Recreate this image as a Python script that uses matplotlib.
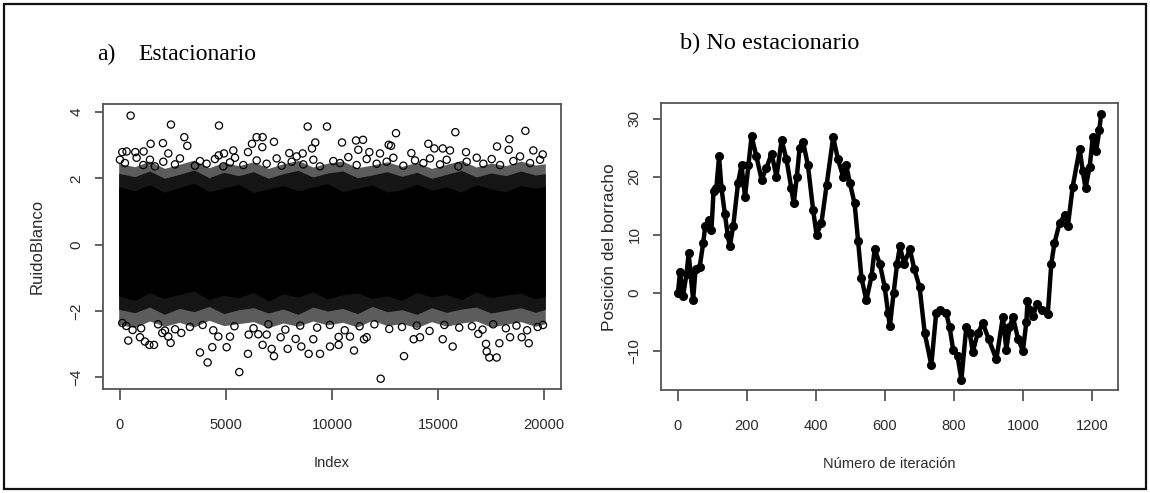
import matplotlib
matplotlib.use('Agg')
import matplotlib.pyplot as plt
from matplotlib.patches import Rectangle

plt.rcParams['font.family'] = ['Liberation Sans', 'DejaVu Sans']

# ---- a) white noise (values read off the picture) ----
n_noise = 20000
# edges of the dense band of points along the index axis
band_idx = [-60, 700, 1400, 2100, 2800, 3500, 4200, 4900, 5600, 6300, 7000, 7700, 8400, 9100,
            9800, 10500, 11200, 11900, 12600, 13300, 14000, 14700, 15400, 16100, 16800, 17500,
            18200, 18900, 19600, 20060]
core_hi = [1.75, 1.62, 1.80, 1.58, 1.72, 1.85, 1.60, 1.70, 1.82, 1.57, 1.68, 1.78, 1.62, 1.74,
           1.84, 1.60, 1.70, 1.80, 1.58, 1.66, 1.82, 1.64, 1.74, 1.58, 1.80, 1.68, 1.60, 1.78,
           1.70, 1.76]
core_lo = [-1.55, -1.68, -1.45, -1.62, -1.50, -1.40, -1.66, -1.52, -1.60, -1.44, -1.70, -1.48,
           -1.58, -1.42, -1.64, -1.50, -1.46, -1.62, -1.54, -1.68, -1.44, -1.58, -1.50, -1.66,
           -1.42, -1.60, -1.52, -1.46, -1.64, -1.55]
mid_hi = [2.15, 2.05, 2.22, 2.00, 2.12, 2.25, 2.02, 2.18, 2.08, 2.20, 2.00, 2.14, 2.24, 2.04,
          2.16, 2.22, 2.02, 2.10, 2.20, 2.06, 2.18, 2.00, 2.12, 2.24, 2.04, 2.16, 2.08, 2.22,
          2.10, 2.14]
mid_lo = [-1.95, -2.05, -1.88, -2.10, -1.92, -2.02, -1.86, -2.08, -1.96, -1.90, -2.06, -1.94,
          -2.10, -1.88, -2.00, -1.92, -2.08, -1.86, -2.02, -1.96, -2.10, -1.90, -2.04, -1.94,
          -1.88, -2.06, -1.98, -1.90, -2.04, -1.95]
fringe_hi = [2.45, 2.35, 2.52, 2.30, 2.42, 2.55, 2.32, 2.48, 2.38, 2.50, 2.30, 2.44, 2.54, 2.34,
             2.46, 2.52, 2.32, 2.40, 2.50, 2.36, 2.48, 2.30, 2.42, 2.54, 2.34, 2.46, 2.38, 2.52,
             2.40, 2.44]
fringe_lo = [-2.40, -2.50, -2.30, -2.46, -2.34, -2.48, -2.28, -2.44, -2.38, -2.32, -2.50, -2.36,
             -2.46, -2.30, -2.42, -2.34, -2.48, -2.28, -2.44, -2.38, -2.50, -2.32, -2.46, -2.36,
             -2.30, -2.48, -2.40, -2.32, -2.46, -2.38]

# single points above the band
top_idx = [504, 2406, 4670, 8853, 9764, 13019, 15818, 19120, 3035, 3176, 2028, 2280, 1447, 6446,
           6729, 6714, 6226, 7264, 9212, 9056, 10472, 11132, 11462, 11242, 11761, 12673, 12784,
           13742, 14544, 14827, 15222, 15566, 17783, 18364, 18333, 19496, 19939, 110, 314, 723,
           1116, 4654, 4906, 5346, 6038, 7987, 8617, 12264, 16321,
           0, 236, 786, 1101, 1415, 1651, 2044, 2594, 2830, 3538, 3774, 4088, 4481, 4874, 5189,
           5425, 5818, 6447, 6919, 7390, 7626, 8098, 8334, 8648, 9120, 9434, 10063, 10378,
           10771, 11164, 11636, 12107, 12579, 12893, 13365, 13915, 14308, 14623, 15095, 15409,
           15959, 16352, 16824, 17138, 17531, 17924, 18553, 18868, 19340, 19811]
top_val = [3.89, 3.62, 3.59, 3.56, 3.56, 3.36, 3.39, 3.43, 3.24, 2.98, 3.06, 2.75, 3.04, 3.24,
           3.24, 2.94, 3.04, 3.10, 3.08, 2.90, 3.08, 3.14, 3.16, 2.86, 2.79, 3.01, 2.98,
           2.76, 3.04, 2.90, 2.90, 2.84, 2.96, 3.18, 2.86, 2.84, 2.72, 2.79, 2.81, 2.79,
           2.81, 2.69, 2.75, 2.84, 2.79, 2.76, 2.75, 2.75, 2.79,
           2.56, 2.46, 2.62, 2.40, 2.56, 2.36, 2.50, 2.42, 2.60, 2.38, 2.52, 2.44, 2.58, 2.36,
           2.48, 2.62, 2.40, 2.54, 2.44, 2.60, 2.38, 2.50, 2.66, 2.42, 2.56, 2.36, 2.52, 2.46,
           2.64, 2.40, 2.58, 2.44, 2.50, 2.62, 2.38, 2.54, 2.46, 2.60, 2.42, 2.56, 2.36,
           2.50, 2.62, 2.44, 2.58, 2.40, 2.52, 2.66, 2.46, 2.56]

# single points below the band
bot_idx = [393, 1384, 1604, 1179, 3774, 4135, 5629, 6038, 4355, 5031, 6729, 7154, 7264, 7909,
           8553, 8899, 9434, 9906, 10315, 11038, 12296, 13396, 15692, 17264, 17296, 17421, 17767,
           19278, 17893, 13853, 14150, 15222, 18397, 18947, 16900, 11509, 11635, 10849, 10315,
           9118, 8286, 7580, 6919, 6525, 6070, 5189, 4638, 2893, 2390, 2123, 2280, 1997, 944,
           597, 110,
           300, 1000, 1800, 2600, 3300, 3900, 4400, 5400, 6300, 7000, 7800, 8500, 9300, 9900,
           10600, 11300, 12000, 12700, 13300, 14000, 14600, 15300, 16000, 16600, 17100, 17600,
           18200, 18700, 19200, 19700, 19950]
bot_val = [-2.89, -3.02, -3.02, -2.92, -3.25, -3.55, -3.84, -3.29, -3.09, -3.09, -3.02, -3.14,
           -3.36, -3.14, -3.07, -3.29, -3.29, -3.07, -3.02, -3.19, -4.04, -3.36, -3.07, -2.99,
           -3.22, -3.40, -3.40, -2.97, -2.97, -2.85, -2.79, -2.85, -2.79, -2.79, -2.69, -2.85,
           -2.79, -2.77, -2.78, -2.85, -2.84, -2.79, -2.71, -2.70, -2.71, -2.77, -2.77, -2.66,
           -2.96, -2.59, -2.77, -2.66, -2.79, -2.57, -2.36,
           -2.45, -2.52, -2.40, -2.55, -2.48, -2.42, -2.58, -2.46, -2.52, -2.40, -2.56, -2.44,
           -2.50, -2.42, -2.58, -2.46, -2.40, -2.54, -2.48, -2.44, -2.60, -2.42, -2.50, -2.46,
           -2.56, -2.40, -2.52, -2.44, -2.58, -2.48, -2.42]

noise_xticks = [0, 5000, 10000, 15000, 20000]
noise_yticks = [-4, -2, 0, 2, 4]

# ---- b) random walk (iteration, position) ----
walk_it = [1, 7, 16, 26, 32, 38, 45, 52, 64, 74, 80, 90, 98, 104, 112, 120, 127, 137, 145, 151,
           161, 175, 185, 195, 205, 214, 228, 243, 257, 272, 286, 301, 315, 329, 336, 345, 353,
           363, 377, 392, 402, 416, 431, 450, 464, 479, 488, 498, 512, 522, 532, 546, 561, 570,
           585, 599, 609, 614, 625, 635, 643, 655, 672, 685, 700, 715, 734, 748, 760, 777, 787,
           797, 810, 821, 835, 845, 854, 868, 883, 900, 922, 941, 951, 960, 970, 985, 999, 1009,
           1012, 1020, 1028, 1040, 1055, 1071, 1081, 1090, 1105, 1120, 1129, 1143, 1163, 1172,
           1180, 1192, 1201, 1211, 1220, 1225]
walk_pos = [0, 3.5, -0.5, 3.3, 6.8, 3, -1.2, 4, 4.5, 8.5, 11.5, 12.5, 10.8, 17.5, 18, 23.5, 18,
            13.5, 10, 8, 11.5, 19, 22, 16.5, 22, 27, 23.5, 19.5, 21.5, 24, 20, 26.3, 23, 18,
            15.4, 20, 25, 26, 22, 14.3, 10, 12, 18.5, 26.8, 23, 20, 22, 19, 15.4, 9, 2.5, -1.3,
            2.8, 7.5, 5, 1, -3.5, -5.8, 0, 5, 8, 5, 7.5, 4, 1, -7, -12.5, -3.5, -3, -3.5, -6,
            -9.8, -11, -15, -6, -7, -10.2, -7, -5.3, -8, -11.5, -4.2, -9.8, -6, -4.2, -8, -10,
            -5, -1.5, -3, -4, -2, -3, -3.6, 5, 8.5, 12, 13.4, 11.5, 18.3, 24.8, 21, 18, 21.7,
            26.8, 24.5, 28, 30.8]
walk_xticks = [0, 200, 400, 600, 800, 1000, 1200]
walk_yticks = [-10, 0, 10, 20, 30]

spine_col = '#555555'
text_col = '#2a2a2a'

fig = plt.figure(figsize=(11.5, 4.93), dpi=100)


def style_axes(ax, xt, yt):
    for s in ax.spines.values():
        s.set_color(spine_col)
        s.set_linewidth(1.3)
    ax.set_xticks(xt)
    ax.set_yticks(yt)
    ax.tick_params(axis='x', direction='out', length=8, width=1.3, color=spine_col,
                   pad=13, labelsize=10.5, labelcolor=text_col)
    ax.tick_params(axis='y', direction='out', length=6, width=1.3, color=spine_col,
                   pad=8, labelsize=11, labelcolor=text_col)
    for lab in ax.get_yticklabels():
        lab.set_rotation(90)
        lab.set_va('center')


# left panel
ax1 = fig.add_axes([103 / 1150, 1 - 389 / 493, 458 / 1150, 285 / 493])
ax1.fill_between(band_idx, fringe_lo, fringe_hi, color='#5c5c5c', lw=0, zorder=1)
ax1.fill_between(band_idx, mid_lo, mid_hi, color='#151515', lw=0, zorder=2)
ax1.fill_between(band_idx, core_lo, core_hi, color='black', lw=0, zorder=3)
ax1.scatter(top_idx, top_val, s=27, facecolors='none', edgecolors='black', linewidths=0.9, zorder=4)
ax1.scatter(bot_idx, bot_val, s=27, facecolors='none', edgecolors='black', linewidths=0.9, zorder=4)
ax1.set_xlim(1 - 0.04 * (n_noise - 1), n_noise + 0.04 * (n_noise - 1))
ax1.set_ylim(-4.35, 4.24)
style_axes(ax1, noise_xticks, noise_yticks)
ax1.set_xlabel('Index', fontsize=10.5, color=text_col)
ax1.xaxis.set_label_coords(0.5, -0.235)
ax1.set_ylabel('RuidoBlanco', fontsize=12, color=text_col)
ax1.yaxis.set_label_coords(-0.128, 0.5)

# right panel
ax2 = fig.add_axes([661 / 1150, 1 - 390 / 493, 457 / 1150, 286.7 / 493])
ax2.plot(walk_it, walk_pos, color='black', lw=3.2, marker='o', ms=5.5, zorder=3)
n_walk = walk_it[-1]
ax2.set_xlim(1 - 0.04 * (n_walk - 1), n_walk + 0.04 * (n_walk - 1))
ax2.set_ylim(-16.78, 32.66)
style_axes(ax2, walk_xticks, walk_yticks)
ax2.set_xlabel('Número de iteración', fontsize=10.5, color=text_col)
ax2.xaxis.set_label_coords(0.5, -0.232)
ax2.set_ylabel('Posición del borracho', fontsize=12.5, color=text_col)
ax2.yaxis.set_label_coords(-0.096, 0.5)

# panel titles
serif = ['Liberation Serif', 'DejaVu Serif']
fig.text(97 / 1150, 1 - 60 / 493, 'a)', family=serif, fontsize=17, va='baseline')
fig.text(138 / 1150, 1 - 60 / 493, 'Estacionario', family=serif, fontsize=17, va='baseline')
fig.text(680 / 1150, 1 - 49 / 493, 'b) No estacionario', family=serif, fontsize=17.5, va='baseline')

# page border
fig.patches.append(Rectangle((4 / 1150, 4 / 493), 1142 / 1150, 485 / 493, transform=fig.transFigure,
                             fill=False, edgecolor='#111111', linewidth=1.6))

plt.savefig('out.png', dpi=100)
